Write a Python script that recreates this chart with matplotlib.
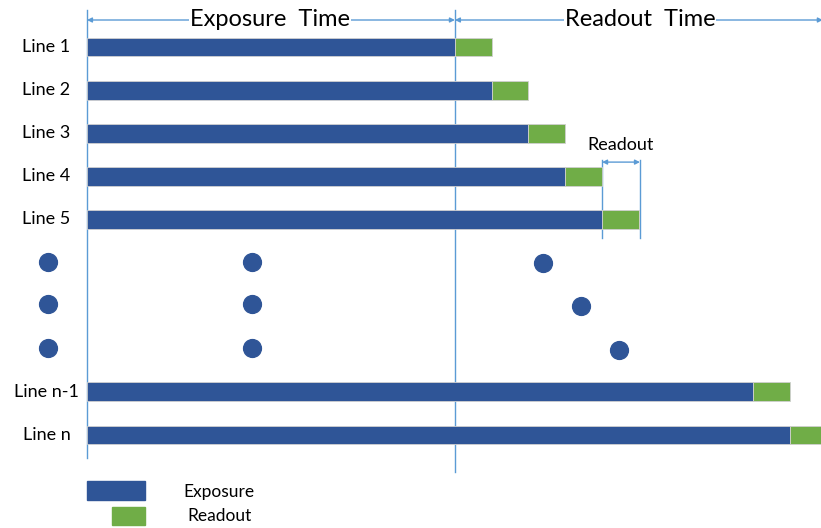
import matplotlib.pyplot as plt
from matplotlib.patches import Rectangle

# rows of the timing diagram (row slot, label, exposure length, readout length)
line_labels = ['Line 1', 'Line 2', 'Line 3', 'Line 4', 'Line 5', 'Line n-1', 'Line n']
line_rows = [0, 1, 2, 3, 4, 8, 9]
exposure_len = [10, 11, 12, 13, 14, 18.1, 19.1]
readout_len = [1, 1, 1, 1, 1, 1, 1]

# "ellipsis" dots between Line 5 and Line n-1
dot_x = [-1.06, -1.06, -1.06, 4.48, 4.48, 4.48, 12.4, 13.42, 14.46]
dot_y = [4.99, 5.96, 6.98, 4.99, 5.96, 6.98, 5.02, 6.0, 7.03]

exposure_time = 10
total_time = 20

BLUE = '#2F5597'
GREEN = '#70AD47'
LINE = '#5B9BD5'

plt.rcParams['font.family'] = ['Lato', 'DejaVu Sans']

fig = plt.figure(figsize=(8.21, 5.28), dpi=100)
ax = fig.add_axes([0, 0, 1, 1])
ax.set_xlim(-2.364, 19.95)
ax.set_ylim(11.157, -1.09)
ax.axis('off')

# bars
ax.barh(line_rows, exposure_len, height=0.44, color=BLUE, edgecolor='#d0d0d0',
        linewidth=0.6, zorder=2)
ax.barh(line_rows, readout_len, left=exposure_len, height=0.44, color=GREEN,
        edgecolor='#d0d0d0', linewidth=0.6, zorder=2)

for r, lab in zip(line_rows, line_labels):
    ax.text(-1.1, r, lab, ha='center', va='center', fontsize=13)

ax.scatter(dot_x, dot_y, s=165, color=BLUE, zorder=3)

# axis lines (behind the bars)
ax.plot([0, 0], [-0.86, 9.53], color=LINE, lw=1, zorder=1)
ax.plot([exposure_time, exposure_time], [-0.86, 9.86], color=LINE, lw=1, zorder=1)
ax.annotate('', xy=(total_time, 9.53), xytext=(0, 9.53),
            arrowprops=dict(arrowstyle='-|>', color=LINE, lw=1, mutation_scale=8,
                            shrinkA=0, shrinkB=0), zorder=1)

# top time arrows
ytop = -0.626
ax.annotate('', xy=(0, ytop), xytext=(exposure_time, ytop),
            arrowprops=dict(arrowstyle='<|-|>', color=LINE, lw=1, mutation_scale=7,
                            shrinkA=0, shrinkB=0))
ax.annotate('', xy=(exposure_time, ytop), xytext=(total_time, ytop),
            arrowprops=dict(arrowstyle='<|-|>', color=LINE, lw=1, mutation_scale=7,
                            shrinkA=0, shrinkB=0))
ax.text(4.97, ytop - 0.02, 'Exposure  Time', ha='center', va='center', fontsize=17,
        bbox=dict(facecolor='white', edgecolor='none', pad=0.5), zorder=4)
ax.text(15.03, ytop - 0.02, 'Readout  Time', ha='center', va='center', fontsize=17,
        bbox=dict(facecolor='white', edgecolor='none', pad=0.5), zorder=4)

# readout annotation
ax.plot([14, 14], [2.62, 4.43], color=LINE, lw=1, zorder=1)
ax.plot([15.03, 15.03], [2.62, 4.43], color=LINE, lw=1, zorder=1)
ax.annotate('', xy=(14, 2.67), xytext=(15.03, 2.67),
            arrowprops=dict(arrowstyle='<|-|>', color=LINE, lw=1, mutation_scale=7,
                            shrinkA=0, shrinkB=0))
ax.text(14.5, 2.27, 'Readout', ha='center', va='center', fontsize=13)

# legend
ax.add_patch(Rectangle((0, 10.07), 1.58, 0.44, color=BLUE))
ax.add_patch(Rectangle((0.68, 10.67), 0.9, 0.42, color=GREEN))
ax.text(2.61, 10.32, 'Exposure', ha='left', va='center', fontsize=12.5)
ax.text(2.72, 10.88, 'Readout', ha='left', va='center', fontsize=12.5)

fig.savefig('out.png', dpi=100)
